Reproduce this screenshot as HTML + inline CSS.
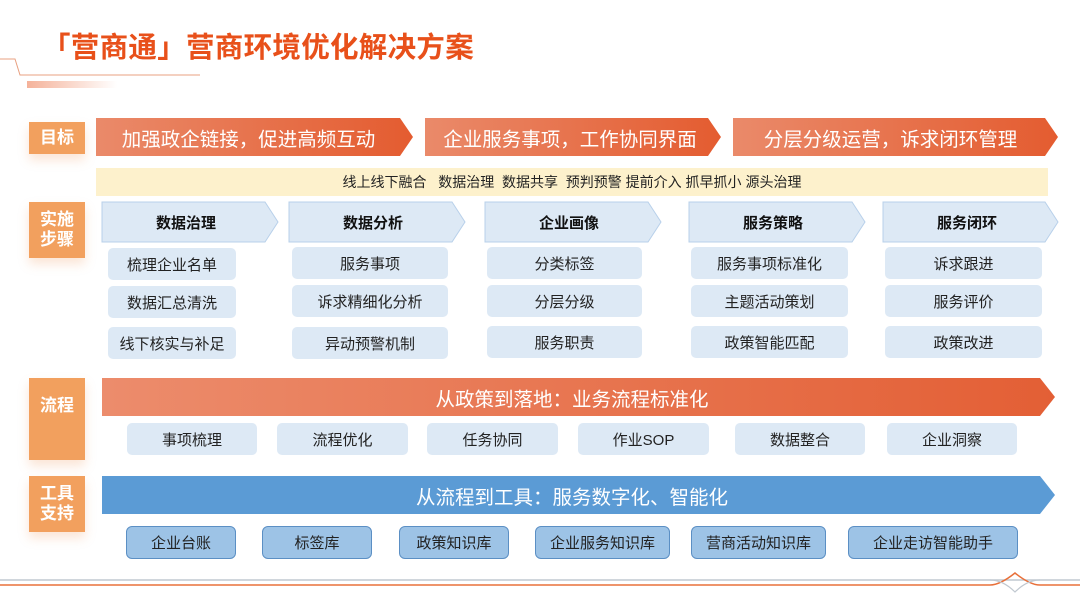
<!DOCTYPE html>
<html><head><meta charset="utf-8"><style>
*{margin:0;padding:0;box-sizing:border-box}
body{width:1080px;height:607px;background:#fff;position:relative;overflow:hidden;font-family:"Liberation Sans","Noto Sans CJK SC",sans-serif}
.a{position:absolute}
.lbl{position:absolute;left:29px;width:56px;background:#f2a05e;color:#fff;font-weight:bold;font-size:17px;line-height:20px;display:flex;align-items:center;justify-content:center;text-align:center;box-shadow:0 6px 10px rgba(240,150,90,.25)}
.t{position:absolute;display:flex;align-items:center;justify-content:center;font-size:15px;color:#222}
.item{background:#dde9f5;border-radius:5px}
.tool{background:#9dc3e6;border:1px solid #5b8fc4;border-radius:6px}
.hd{font-weight:bold;font-size:15px;color:#111}
.w{color:#fff;font-size:19.5px}
</style></head><body>
<div class="a" style="left:42px;top:25px;font-size:28.5px;font-weight:bold;color:#e8501a;letter-spacing:0.3px">「营商通」营商环境优化解决方案</div>
<svg class="a" style="left:0;top:0" width="1080" height="607">
<defs>
<linearGradient id="o" x1="0" x2="1"><stop offset="0" stop-color="#ea8a6a"/><stop offset="1" stop-color="#e45c30"/></linearGradient>
<linearGradient id="o2" x1="0" x2="1"><stop offset="0" stop-color="#ec8c6c"/><stop offset="1" stop-color="#e35f35"/></linearGradient>
<linearGradient id="fade" x1="0" x2="1"><stop offset="0" stop-color="#e8541e"/><stop offset="1" stop-color="#e8541e" stop-opacity="0"/></linearGradient>
</defs>
<polyline points="0,59 15,59 20,75 200,75" fill="none" stroke="#e8a080" stroke-width="1"/>
<rect x="27" y="81" width="90" height="7" fill="url(#fade)" opacity=".45"/>
<polygon points="96,118 400,118 413,137 400,156 96,156" fill="url(#o)"/>
<polygon points="425,118 708,118 721,137 708,156 425,156" fill="url(#o)"/>
<polygon points="733,118 1045,118 1058,137 1045,156 733,156" fill="url(#o)"/>
<rect x="96" y="168" width="952" height="28" fill="#fdf1cc"/>
<g fill="#dde9f5" stroke="#b8d0ea" stroke-width="1">
<polygon points="102,202 265,202 278,222 265,242 102,242"/>
<polygon points="289,202 452,202 465,222 452,242 289,242"/>
<polygon points="485,202 648,202 661,222 648,242 485,242"/>
<polygon points="689,202 852,202 865,222 852,242 689,242"/>
<polygon points="883,202 1045,202 1058,222 1045,242 883,242"/>
</g>
<polygon points="102,378 1040,378 1055,397 1040,416 102,416" fill="url(#o2)"/>
<polygon points="102,476 1040,476 1055,495 1040,514 102,514" fill="#5b9bd5"/>
<line x1="0" y1="580" x2="1080" y2="580" stroke="#c0c8d0" stroke-width="1.5"/>
<path d="M0,585 L990,585 Q1000,585 1015,573 Q1030,585 1040,585 L1080,585" fill="none" stroke="#e8703a" stroke-width="1.5"/>
<path d="M990,580 Q1003,580 1015,592 Q1027,580 1040,580" fill="none" stroke="#c0c8d0" stroke-width="1.2"/>
</svg>
<div class="lbl" style="top:122px;height:32px">目标</div>
<div class="lbl" style="top:202px;height:56px">实施<br>步骤</div>
<div class="lbl" style="top:378px;height:82px;align-items:flex-start;padding-top:18px">流程</div>
<div class="lbl" style="top:476px;height:56px">工具<br>支持</div>
<div class="t w" style="left:96px;top:118px;width:305px;height:38px">加强政企链接，促进高频互动</div>
<div class="t w" style="left:425px;top:118px;width:290px;height:38px">企业服务事项，工作协同界面</div>
<div class="t w" style="left:733px;top:118px;width:315px;height:38px">分层分级运营，诉求闭环管理</div>
<div class="t" style="left:96px;top:168px;width:952px;height:28px;font-size:14px">线上线下融合&nbsp;&nbsp; 数据治理&nbsp; 数据共享&nbsp; 预判预警 提前介入 抓早抓小 源头治理</div>
<div class="t hd" style="left:102px;top:202px;width:168px;height:40px">数据治理</div>
<div class="t hd" style="left:289px;top:202px;width:168px;height:40px">数据分析</div>
<div class="t hd" style="left:485px;top:202px;width:168px;height:40px">企业画像</div>
<div class="t hd" style="left:689px;top:202px;width:168px;height:40px">服务策略</div>
<div class="t hd" style="left:883px;top:202px;width:168px;height:40px">服务闭环</div>
<div class="t item" style="left:108px;top:248px;width:128px;height:32px">梳理企业名单</div>
<div class="t item" style="left:108px;top:286px;width:128px;height:32px">数据汇总清洗</div>
<div class="t item" style="left:108px;top:327px;width:128px;height:32px">线下核实与补足</div>
<div class="t item" style="left:292px;top:247px;width:156px;height:32px">服务事项</div>
<div class="t item" style="left:292px;top:285px;width:156px;height:32px">诉求精细化分析</div>
<div class="t item" style="left:292px;top:327px;width:156px;height:32px">异动预警机制</div>
<div class="t item" style="left:487px;top:247px;width:155px;height:32px">分类标签</div>
<div class="t item" style="left:487px;top:285px;width:155px;height:32px">分层分级</div>
<div class="t item" style="left:487px;top:326px;width:155px;height:32px">服务职责</div>
<div class="t item" style="left:691px;top:247px;width:157px;height:32px">服务事项标准化</div>
<div class="t item" style="left:691px;top:285px;width:157px;height:32px">主题活动策划</div>
<div class="t item" style="left:691px;top:326px;width:157px;height:32px">政策智能匹配</div>
<div class="t item" style="left:885px;top:247px;width:157px;height:32px">诉求跟进</div>
<div class="t item" style="left:885px;top:285px;width:157px;height:32px">服务评价</div>
<div class="t item" style="left:885px;top:326px;width:157px;height:32px">政策改进</div>
<div class="t w" style="left:102px;top:378px;width:940px;height:38px">从政策到落地：业务流程标准化</div>
<div class="t item" style="left:127px;top:423px;width:130px;height:32px">事项梳理</div>
<div class="t item" style="left:277px;top:423px;width:131px;height:32px">流程优化</div>
<div class="t item" style="left:427px;top:423px;width:131px;height:32px">任务协同</div>
<div class="t item" style="left:578px;top:423px;width:131px;height:32px">作业SOP</div>
<div class="t item" style="left:735px;top:423px;width:130px;height:32px">数据整合</div>
<div class="t item" style="left:887px;top:423px;width:130px;height:32px">企业洞察</div>
<div class="t w" style="left:102px;top:476px;width:940px;height:38px">从流程到工具：服务数字化、智能化</div>
<div class="t tool" style="left:126px;top:526px;width:110px;height:33px">企业台账</div>
<div class="t tool" style="left:262px;top:526px;width:110px;height:33px">标签库</div>
<div class="t tool" style="left:399px;top:526px;width:110px;height:33px">政策知识库</div>
<div class="t tool" style="left:535px;top:526px;width:135px;height:33px">企业服务知识库</div>
<div class="t tool" style="left:691px;top:526px;width:135px;height:33px">营商活动知识库</div>
<div class="t tool" style="left:848px;top:526px;width:170px;height:33px">企业走访智能助手</div>
</body></html>
